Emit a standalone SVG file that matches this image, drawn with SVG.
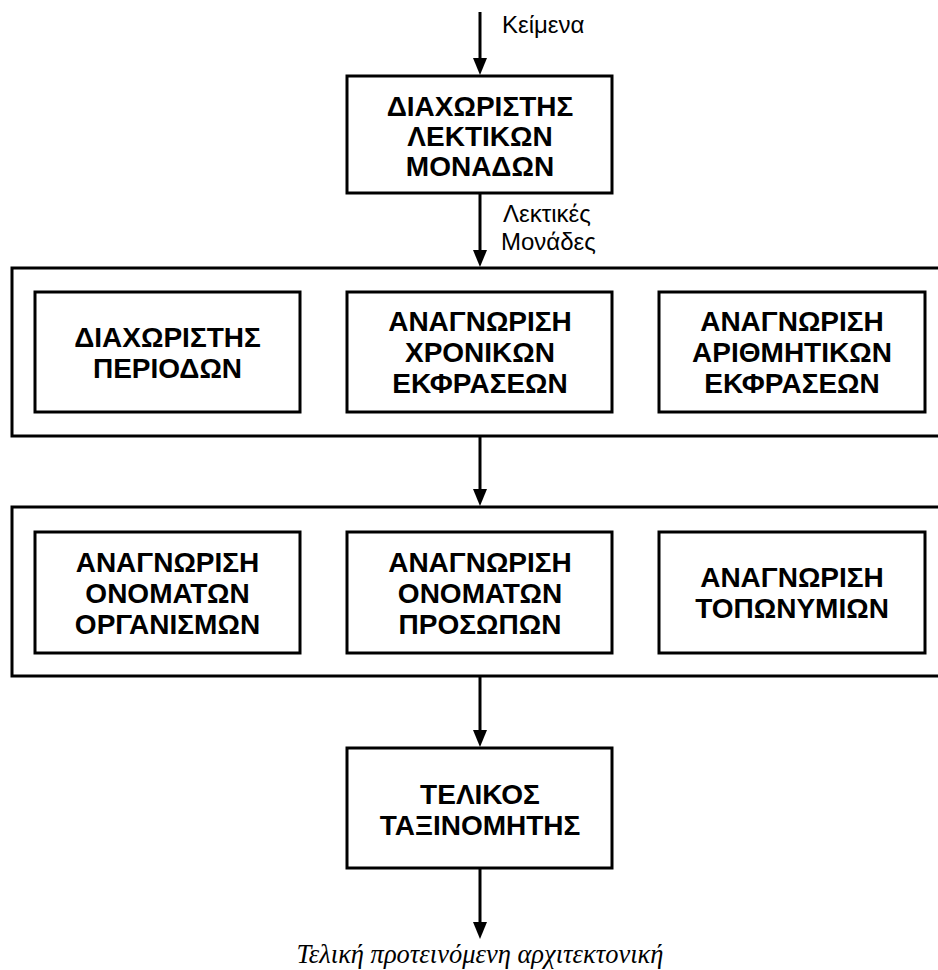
<svg xmlns="http://www.w3.org/2000/svg" width="938" height="970" viewBox="0 0 938 970">
<style>
.box{fill:#fff;stroke:#000;stroke-width:3}
.grp{fill:none;stroke:#000;stroke-width:3}
.t{font-family:"Liberation Sans",Arial,sans-serif;font-weight:bold;font-size:28px;text-anchor:middle;fill:#000}
.lbl{font-family:"Liberation Sans",Arial,sans-serif;font-size:24px;fill:#000}
.cap{font-family:"Liberation Serif","Times New Roman",serif;font-style:italic;font-size:26.5px;text-anchor:middle;fill:#000}
.ln{stroke:#000;stroke-width:3}
</style>
<rect width="938" height="970" fill="#fff"/>
<g id="connectors">
<line class="ln" x1="480" y1="12" x2="480" y2="60"/>
<polygon points="473,58 487,58 480,75"/>
<line class="ln" x1="480" y1="193" x2="480" y2="252"/>
<polygon points="473,250 487,250 480,267"/>
<line class="ln" x1="480" y1="436" x2="480" y2="491"/>
<polygon points="473,489 487,489 480,506"/>
<line class="ln" x1="480" y1="676" x2="480" y2="732"/>
<polygon points="473,730 487,730 480,747"/>
<line class="ln" x1="480" y1="868" x2="480" y2="924"/>
<polygon points="473,922 487,922 480,939"/>
<text class="lbl" x="502" y="33">Κείμενα</text>
<text class="lbl" x="503" y="222">Λεκτικές</text>
<text class="lbl" x="501" y="250">Μονάδες</text>
</g>
<g id="tokenizer">
<rect class="box" x="347" y="76" width="265" height="117"/>
<text class="t" x="480" y="116">ΔΙΑΧΩΡΙΣΤΗΣ</text>
<text class="t" x="480" y="146">ΛΕΚΤΙΚΩΝ</text>
<text class="t" x="480" y="176">ΜΟΝΑΔΩΝ</text>
</g>
<g id="group1">
<rect class="grp" x="12" y="268" width="940" height="168"/>
</g>
<g id="sentence-splitter">
<rect class="box" x="35" y="292" width="265" height="120"/>
<text class="t" x="167.5" y="347">ΔΙΑΧΩΡΙΣΤΗΣ</text>
<text class="t" x="167.5" y="378">ΠΕΡΙΟΔΩΝ</text>
</g>
<g id="time-expr">
<rect class="box" x="347" y="292" width="265" height="120"/>
<text class="t" x="480" y="331">ΑΝΑΓΝΩΡΙΣΗ</text>
<text class="t" x="480" y="362">ΧΡΟΝΙΚΩΝ</text>
<text class="t" x="480" y="393">ΕΚΦΡΑΣΕΩΝ</text>
</g>
<g id="num-expr">
<rect class="box" x="659" y="292" width="266" height="120"/>
<text class="t" x="792" y="331">ΑΝΑΓΝΩΡΙΣΗ</text>
<text class="t" x="792" y="362">ΑΡΙΘΜΗΤΙΚΩΝ</text>
<text class="t" x="792" y="393">ΕΚΦΡΑΣΕΩΝ</text>
</g>
<g id="group2">
<rect class="grp" x="12" y="507" width="940" height="169"/>
</g>
<g id="org-names">
<rect class="box" x="35" y="532" width="265" height="121"/>
<text class="t" x="167.5" y="572">ΑΝΑΓΝΩΡΙΣΗ</text>
<text class="t" x="167.5" y="603">ΟΝΟΜΑΤΩΝ</text>
<text class="t" x="167.5" y="634">ΟΡΓΑΝΙΣΜΩΝ</text>
</g>
<g id="person-names">
<rect class="box" x="347" y="532" width="265" height="121"/>
<text class="t" x="480" y="572">ΑΝΑΓΝΩΡΙΣΗ</text>
<text class="t" x="480" y="603">ΟΝΟΜΑΤΩΝ</text>
<text class="t" x="480" y="634">ΠΡΟΣΩΠΩΝ</text>
</g>
<g id="place-names">
<rect class="box" x="659" y="532" width="266" height="121"/>
<text class="t" x="792" y="587">ΑΝΑΓΝΩΡΙΣΗ</text>
<text class="t" x="792" y="618">ΤΟΠΩΝΥΜΙΩΝ</text>
</g>
<g id="final-classifier">
<rect class="box" x="347" y="748" width="265" height="120"/>
<text class="t" x="480" y="804">ΤΕΛΙΚΟΣ</text>
<text class="t" x="480" y="835">ΤΑΞΙΝΟΜΗΤΗΣ</text>
</g>
<text class="cap" x="480" y="963">Τελική προτεινόμενη αρχιτεκτονική</text>
</svg>
